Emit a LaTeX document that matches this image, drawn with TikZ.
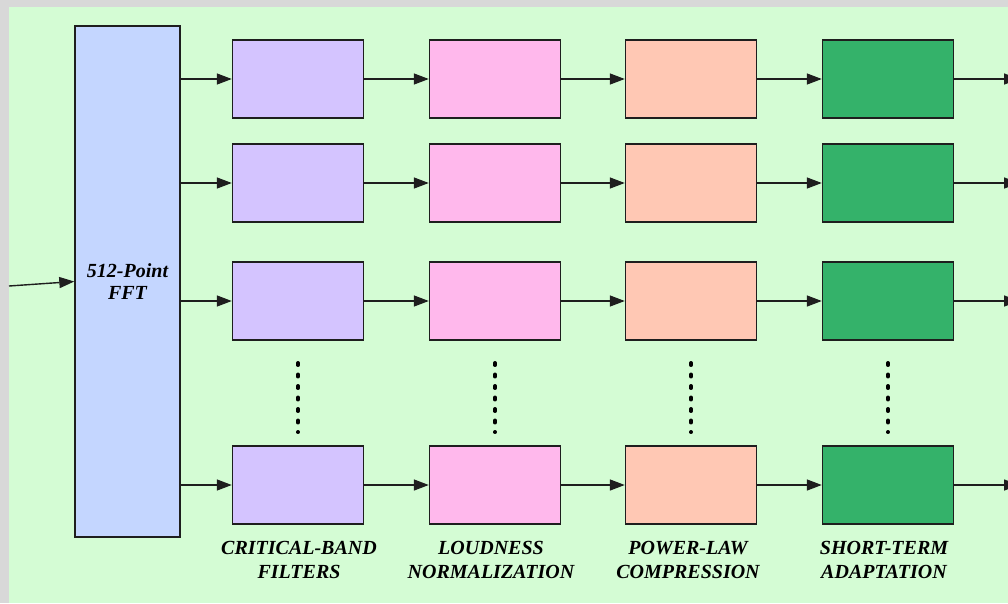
\documentclass[tikz,border=0pt]{standalone}
\usepackage{fontspec}
\setmainfont{Liberation Serif}
\usetikzlibrary{arrows.meta}
\definecolor{framegray}{RGB}{216,216,216}
\definecolor{panelgreen}{RGB}{212,252,212}
\definecolor{fftblue}{RGB}{196,214,255}
\definecolor{bandpurple}{RGB}{212,196,255}
\definecolor{loudpink}{RGB}{255,184,236}
\definecolor{powpeach}{RGB}{255,200,180}
\definecolor{adaptgreen}{RGB}{52,178,106}
\definecolor{edge}{RGB}{30,30,30}
\begin{document}
\begin{tikzpicture}[x=1pt,y=-1pt,
  stagebox/.style={draw=edge, line width=1.4pt, minimum width=131pt, minimum height=78pt, inner sep=0pt},
  fftbox/.style={draw=edge, line width=1.4pt, fill=fftblue, minimum width=105pt, minimum height=511pt, inner sep=0pt, align=center},
  flow/.style={draw=edge, line width=1.4pt, -{Triangle[length=15pt,width=11pt]}},
  ellipsis/.style={line width=3.3pt, line cap=round, dash pattern=on 2.6pt off 8.9pt},
  lbl/.style={font=\bfseries\itshape\fontsize{20}{24}\selectfont, align=center, inner sep=0pt},
]
\useasboundingbox (0,0) rectangle (1008,603);
\clip (0,0) rectangle (1008,603);
% frame and panel
\fill[framegray] (0,0) rectangle (1008,603);
\fill[panelgreen] (9,7) rectangle (1008,603);

% FFT block and its input
\node[fftbox, font=\bfseries\itshape\fontsize{20}{22}\selectfont] (fft) at (127.5,281.5) {512-Point\\FFT};
\coordinate (src) at (9,286);
\draw[flow] (src) -- (fft.west);

% four processing stages, four channel rows
\foreach \c/\x/\col in {1/298/bandpurple, 2/495/loudpink, 3/691/powpeach, 4/888/adaptgreen}{
  \foreach \r/\y in {1/79, 2/183, 3/301, 4/485}{
    \node[stagebox, fill=\col] (b\c\r) at (\x,\y) {};
  }
}

% connections along each row
\foreach \r/\y in {1/79, 2/183, 3/301, 4/485}{
  \draw[flow] (fft.east |- b1\r.west) -- (b1\r.west);
  \draw[flow] (b1\r.east) -- (b2\r.west);
  \draw[flow] (b2\r.east) -- (b3\r.west);
  \draw[flow] (b3\r.east) -- (b4\r.west);
  \coordinate (out\r) at (1019,\y);
  \draw[flow] (b4\r.east) -- (out\r);
}

% vertical ellipses between row 3 and row 4
\foreach \c in {1,2,3,4}{
  \draw[ellipsis] ([yshift=-22pt]b\c3.south) -- ([yshift=13pt]b\c4.north);
}

% stage captions
\node[lbl] (cap1) at (299,560) {CRITICAL-BAND\\FILTERS};
\node[lbl] (cap2) at (491,560) {LOUDNESS\\NORMALIZATION};
\node[lbl] (cap3) at (688,560) {POWER-LAW\\COMPRESSION};
\node[lbl] (cap4) at (884,560) {SHORT-TERM\\ADAPTATION};
\end{tikzpicture}
\end{document}
